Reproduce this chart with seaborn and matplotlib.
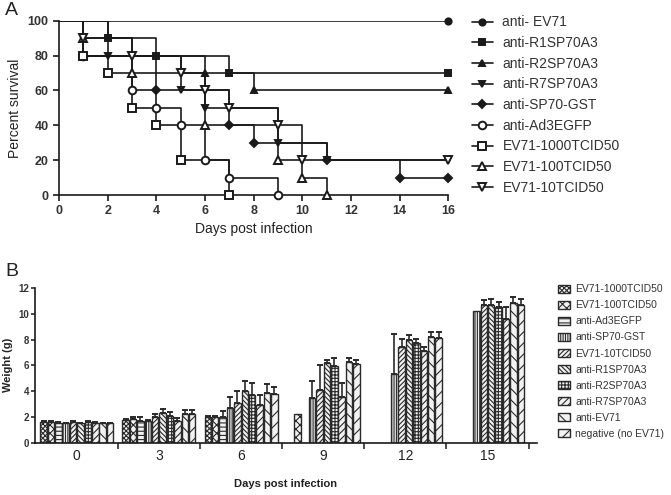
import numpy as np
import pandas as pd
import matplotlib
matplotlib.use("Agg")
import matplotlib.pyplot as plt
import seaborn as sns
from matplotlib.lines import Line2D
from matplotlib.patches import Patch

# --- dane: panel A (krzywe przezycia) ---
surv_labels = ["anti- EV71", "anti-R1SP70A3", "anti-R2SP70A3", "anti-R7SP70A3",
               "anti-SP70-GST", "anti-Ad3EGFP", "EV71-1000TCID50",
               "EV71-100TCID50", "EV71-10TCID50"]
days_ev71 = [0, 16]
surv_ev71 = [100, 100]
days_r1 = [0, 2, 4, 7, 16]
surv_r1 = [100, 90, 80, 70, 70]
days_r2 = [0, 1, 6, 8, 16]
surv_r2 = [100, 80, 70, 60, 60]
days_r7 = [0, 2, 5, 6, 9, 11, 16]
surv_r7 = [100, 80, 60, 50, 30, 20, 20]
days_gst = [0, 1, 4, 7, 8, 11, 14, 16]
surv_gst = [100, 80, 60, 40, 30, 20, 10, 10]
days_ad3 = [0, 1, 3, 4, 5, 6, 7, 9]
surv_ad3 = [100, 80, 60, 50, 40, 20, 10, 0]
days_1000 = [0, 1, 2, 3, 4, 5, 7]
surv_1000 = [100, 80, 70, 50, 40, 20, 0]
days_100 = [0, 1, 3, 6, 9, 10, 11]
surv_100 = [100, 90, 70, 40, 20, 10, 0]
days_10 = [0, 1, 3, 5, 6, 7, 9, 10, 16]
surv_10 = [100, 90, 80, 70, 60, 50, 40, 20, 20]

# --- dane: panel B (masa ciala) ---
weight_days = ["0", "3", "6", "9", "12", "15"]
bar_labels = ["EV71-1000TCID50", "EV71-100TCID50", "anti-Ad3EGFP", "anti-SP70-GST",
              "EV71-10TCID50", "anti-R1SP70A3", "anti-R2SP70A3", "anti-R7SP70A3",
              "anti-EV71", "negative (no EV71)"]
nan = np.nan
w_1000 = [1.6, 1.75, 1.95, nan, nan, nan]
w_100 = [1.6, 1.85, 2.0, 2.2, nan, nan]
w_ad3 = [1.55, 1.7, 2.0, nan, nan, nan]
w_gst = [1.5, 1.7, 2.65, 3.45, 5.3, 10.2]
w_10 = [1.6, 2.0, 3.05, 4.1, 7.4, 10.7]
w_r1 = [1.5, 2.3, 4.0, 6.2, 7.95, 10.7]
w_r2 = [1.6, 2.1, 3.7, 5.95, 7.7, 10.5]
w_r7 = [1.55, 1.7, 2.9, 3.5, 7.1, 9.6]
w_ev71 = [1.5, 2.25, 3.85, 6.25, 8.2, 10.85]
w_neg = [1.5, 2.25, 3.75, 6.1, 8.1, 10.7]

e_1000 = [0.05, 0.05, 0.1, nan, nan, nan]
e_100 = [0.05, 0.12, 0.1, 0.0, nan, nan]
e_ad3 = [0.05, 0.25, 0.45, nan, nan, nan]
e_gst = [0.05, 0.05, 0.85, 1.35, 3.15, 0.0]
e_10 = [0.05, 0.2, 0.95, 1.9, 0.65, 0.4]
e_r1 = [0.05, 0.3, 0.75, 0.25, 0.4, 0.45]
e_r2 = [0.05, 0.25, 0.95, 0.65, 0.35, 0.4]
e_r7 = [0.05, 0.2, 0.8, 1.15, 0.35, 0.9]
e_ev71 = [0.05, 0.3, 0.7, 0.35, 0.35, 0.45]
e_neg = [0.05, 0.3, 0.6, 0.35, 0.45, 0.45]

sns.set_style("ticks")
plt.rcParams['font.family'] = ['Liberation Sans', 'DejaVu Sans']
plt.rcParams['hatch.linewidth'] = 0.8

fig = plt.figure(figsize=(6.71, 4.95), dpi=100)

# ---------------- panel A ----------------
axA = fig.add_axes([0.088, 0.606, 0.580, 0.352])
ink = "#1a1a1a"
surv_days = [days_ev71, days_r1, days_r2, days_r7, days_gst, days_ad3, days_1000, days_100, days_10]
surv_vals = [surv_ev71, surv_r1, surv_r2, surv_r7, surv_gst, surv_ad3, surv_1000, surv_100, surv_10]
# (marker, rozmiar, wypelniony)
styles = [("o", 4.5, True), ("s", 4.2, True), ("^", 4.5, True), ("v", 4.5, True), ("D", 3.8, True),
          ("o", 5.5, False), ("s", 5.5, False), ("^", 6, False), ("v", 6, False)]

for d, s, (mk, ms, filled) in zip(surv_days, surv_vals, styles):
    sns.lineplot(x=d, y=s, ax=axA, color=ink, linewidth=1.2, drawstyle="steps-post",
                 sort=False, errorbar=None)
    axA.plot(d[1:], s[1:], linestyle="none", marker=mk, markersize=ms,
             markerfacecolor=ink if filled else "white", markeredgecolor=ink,
             markeredgewidth=1.4, clip_on=False, zorder=3)

axA.set_xlim(0, 16)
axA.set_ylim(0, 100)
axA.set_xticks(range(0, 17, 2))
axA.set_yticks(range(0, 101, 20))
for lab in axA.get_xticklabels() + axA.get_yticklabels():
    lab.set_fontweight("bold")
    lab.set_fontsize(9)
axA.tick_params(length=4, width=1.2, color=ink, labelcolor="#333")
for sp in ["left", "bottom"]:
    axA.spines[sp].set_linewidth(1.2)
    axA.spines[sp].set_color(ink)
sns.despine(ax=axA)
axA.set_xlabel("Days post infection", fontsize=10, color="#222", labelpad=3)
axA.set_ylabel("Percent survival", fontsize=10, color="#222", labelpad=4)

handlesA = [Line2D([0], [0], color=ink, lw=1.2, marker=mk, markersize=ms,
                   markerfacecolor=ink if filled else "white", markeredgecolor=ink,
                   markeredgewidth=1.4) for mk, ms, filled in styles]
fig.legend(handlesA, surv_labels, loc="upper left", bbox_to_anchor=(0.695, 0.98),
           frameon=False, fontsize=10, handlelength=1.5, handletextpad=0.7,
           labelspacing=0.48, borderaxespad=0, labelcolor="#333")

# ---------------- panel B ----------------
axB = fig.add_axes([0.052, 0.106, 0.748, 0.312])
w_all = [w_1000, w_100, w_ad3, w_gst, w_10, w_r1, w_r2, w_r7, w_ev71, w_neg]
e_all = [e_1000, e_100, e_ad3, e_gst, e_10, e_r1, e_r2, e_r7, e_ev71, e_neg]
rows = []
for g, vals in zip(bar_labels, w_all):
    for day, v in zip(weight_days, vals):
        if not np.isnan(v):
            rows.append({"day": day, "group": g, "weight": v})
df = pd.DataFrame(rows)

sns.barplot(data=df, x="day", y="weight", hue="group", order=weight_days,
            hue_order=bar_labels, errorbar=None, width=0.9, gap=0.12,
            ax=axB, legend=False)

hatches = ["xxxxxxx", "xxxx", "----", "|||||||", "///////", "\\\\\\\\\\\\\\",
           "+++++", "/////", "\\\\\\", "///"]
bar_conts = list(axB.containers)
for gi, cont in enumerate(bar_conts):
    for bar in cont.patches:
        h = bar.get_height()
        if np.isnan(h):
            continue
        bar.set_facecolor("#f2f2f2")
        bar.set_edgecolor("#2a2a2a")
        bar.set_linewidth(1.0)
        bar.set_hatch(hatches[gi])
        xc = bar.get_x() + bar.get_width() / 2
        di = int(round(xc))
        err = e_all[gi][di]
        if err > 0:
            axB.errorbar(xc, h, yerr=[[0], [err]], fmt="none", ecolor="#2a2a2a",
                         elinewidth=1.2, capsize=2.0, capthick=1.4, zorder=3)

axB.set_xlim(-0.51, 5.6)
axB.set_ylim(0, 12)
axB.set_yticks(range(0, 13, 2))
for lab in axB.get_yticklabels():
    lab.set_fontweight("bold")
    lab.set_fontsize(7)
axB.tick_params(axis="y", length=3, width=1.1, color=ink, labelcolor="#333", pad=1)
axB.set_xticks(range(6))
axB.set_xticklabels(weight_days, fontsize=10, color="#222")
axB.tick_params(axis="x", which="major", length=0, pad=5)
axB.set_xticks([i + 0.5 for i in range(6)], minor=True)
axB.tick_params(axis="x", which="minor", length=4, width=1.1, color=ink)
for sp in ["left", "bottom"]:
    axB.spines[sp].set_linewidth(1.2)
    axB.spines[sp].set_color(ink)
sns.despine(ax=axB)
axB.set_xlabel("Days post infection", fontsize=8, fontweight="bold", color="#222", labelpad=11)
axB.set_ylabel("Weight (g)", fontsize=8, fontweight="bold", color="#222", labelpad=4)

handlesB = [Patch(facecolor="#f2f2f2", edgecolor="#2a2a2a", hatch=h, linewidth=1.0)
            for h in hatches]
fig.legend(handlesB, bar_labels, loc="upper left", bbox_to_anchor=(0.825, 0.434),
           frameon=False, fontsize=7.5, handlelength=1.2, handleheight=0.8,
           handletextpad=0.5, labelspacing=0.58, borderaxespad=0, labelcolor="#333")

fig.text(0.008, 0.995, "A", fontsize=14, va="top", ha="left", color="#222")
fig.text(0.008, 0.468, "B", fontsize=14, va="top", ha="left", color="#222")

fig.savefig("out.png", dpi=100)
